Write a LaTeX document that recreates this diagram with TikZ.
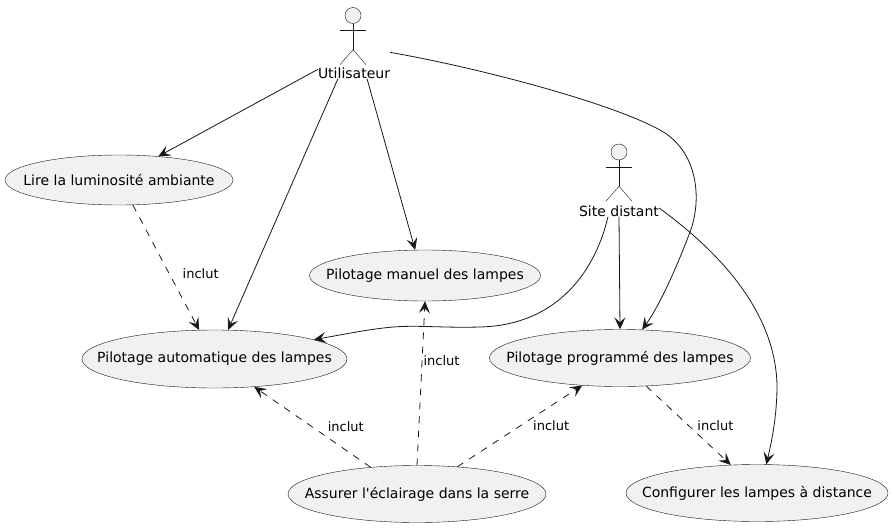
\documentclass[tikz,border=0pt]{standalone}
\usepackage{fontspec}
\setmainfont{DejaVu Sans}
\usetikzlibrary{shapes.geometric,arrows.meta,positioning,calc}
\definecolor{usefill}{HTML}{F1F1F1}
\definecolor{useline}{HTML}{181818}
\tikzset{
  usecase/.style={draw=useline,fill=usefill,ellipse,line width=0.4pt,inner sep=-40pt,font=\fontsize{14}{16}\selectfont},
  actorlabel/.style={inner sep=0pt,font=\fontsize{14}{16}\selectfont},
  actorhead/.style={draw=useline,fill=usefill,circle,line width=0.4pt,minimum size=16pt,inner sep=0pt},
  actorline/.style={draw=useline,line width=0.4pt},
  assoc/.style={-{Stealth[length=12pt,width=11pt,inset=5pt]},draw=useline,line width=0.8pt},
  incl/.style={assoc,dash pattern=on 7pt off 7pt},
  inclabel/.style={inner sep=0pt,font=\fontsize{13}{15}\selectfont}
}

\begin{document}
\begin{tikzpicture}[x=1pt,y=-1pt]
  \useasboundingbox (0,0) rectangle (893,527);

  % actors
  \node[actorhead] (utilhead) at (353,15.5) {};
  \node[actorlabel] (util) at (354,73) {Utilisateur};
  \node[actorhead] (sitehead) at (619,152) {};
  \node[actorlabel] (site) at (619,211) {Site distant};
  \foreach \who in {util,site} {
    \draw[actorline] (\who head.south) -- ++(0,26) coordinate (\who hip);
    \draw[actorline] ($(\who head.south)+(-13,6.5)$) -- ++(26,0);
    \draw[actorline] (\who hip) -- ++(-13,15);
    \draw[actorline] (\who hip) -- ++(13,15);
  }

  % use cases
  \node[usecase,minimum width=228pt,minimum height=50pt] (lire) at (119,180) {Lire la luminosité ambiante};
  \node[usecase,minimum width=231pt,minimum height=51pt] (manuel) at (425,275.5) {Pilotage manuel des lampes};
  \node[usecase,minimum width=265pt,minimum height=58pt] (auto) at (214.5,359) {Pilotage automatique des lampes};
  \node[usecase,minimum width=261pt,minimum height=57pt] (prog) at (620,358) {Pilotage programmé des lampes};
  \node[usecase,minimum width=258pt,minimum height=57pt] (serre) at (417,494) {Assurer l\textquotesingle éclairage dans la serre};
  \node[usecase,minimum width=262pt,minimum height=57pt] (config) at (757,493) {Configurer les lampes à distance};

  % associations
  \draw[assoc] ([yshift=-2pt]util.north west) -- (lire.31);
  \draw[assoc] ([xshift=-16pt]util.south) -- (auto.65);
  \draw[assoc] ([xshift=13pt]util.south) -- (manuel.111);
  \draw[assoc] ([yshift=15pt]util.north east) .. controls (480,68) and (620,105) .. (665,133)
    .. controls (698,155) and (702,200) .. (690,232) .. controls (678,264) and (660,305) .. (prog.52);
  \draw[assoc] ([xshift=-11pt]site.south) .. controls (596,268) and (560,325) .. (480,327)
    .. controls (440,328) and (420,325) .. (393,327) .. controls (370,329) and (340,335) .. (auto.11);
  \draw[assoc] (site.south) -- (prog.north);
  \draw[assoc] ([yshift=3pt]site.east) .. controls (700,238) and (775,300) .. (777,385)
    .. controls (777,415) and (772,440) .. (config.72);

  % includes
  \draw[incl] (lire.-61) -- node[inclabel,pos=0.55,right=13pt] {inclut} (auto.118);
  \draw[incl] (prog.-47) -- node[inclabel,pos=0.5,right=8.5pt] {inclut} (config.133);
  \draw[incl] (serre.150) -- node[inclabel,pos=0.5,right=15pt] {inclut} (auto.-35);
  \draw[incl] (serre.north) -- node[inclabel,pos=0.64,right=1pt] {inclut} (manuel.south);
  \draw[incl] (serre.34) -- node[inclabel,pos=0.5,right=13pt] {inclut} (prog.216);
\end{tikzpicture}
\end{document}
